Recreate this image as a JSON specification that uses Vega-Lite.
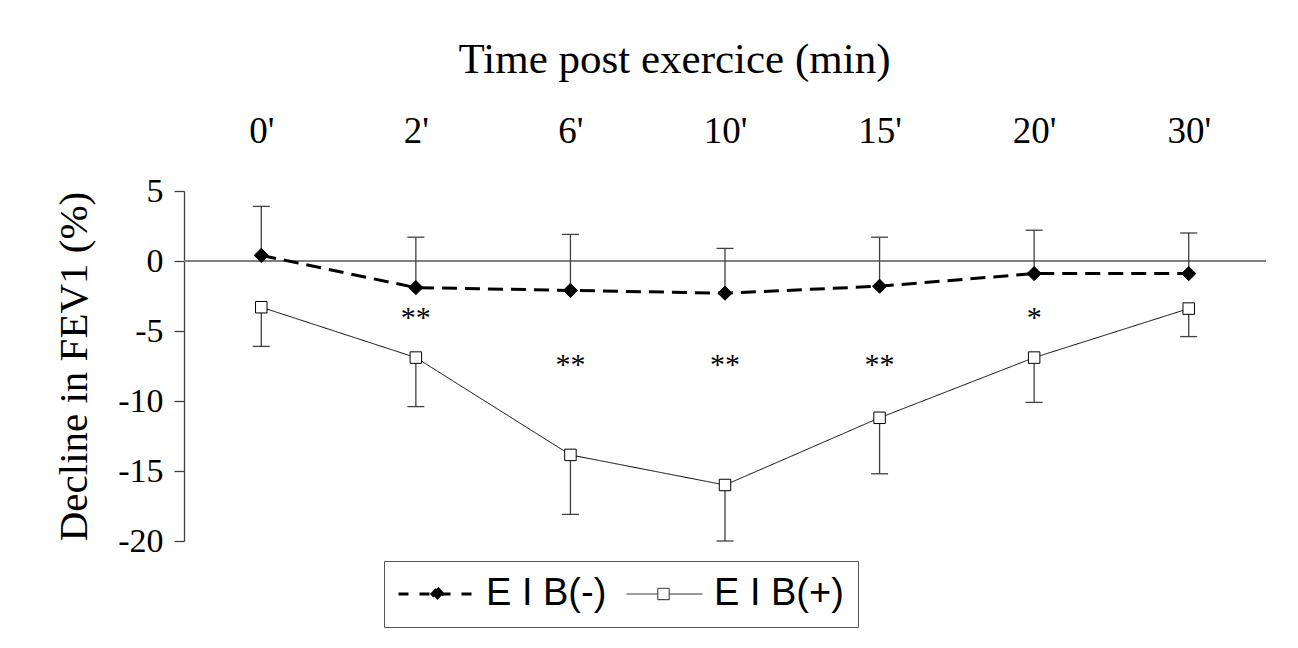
{
  "$schema": "https://vega.github.io/schema/vega-lite/v6.json",
  "width": 1082,
  "height": 350,
  "autosize": {"type": "none"},
  "padding": {"left": 184, "top": 191, "right": 32, "bottom": 107},
  "background": "white",
  "config": {
    "view": {"stroke": null},
    "font": "Liberation Serif",
    "axisX": {
      "domain": false,
      "ticks": false,
      "grid": false,
      "labelFont": "Liberation Serif",
      "labelFontSize": 37,
      "labelColor": "black",
      "labelPadding": 49,
      "labelBaseline": "alphabetic",
      "labelAngle": 0,
      "titleFont": "Liberation Serif",
      "titleFontSize": 43,
      "titleFontWeight": "normal",
      "titleColor": "black",
      "titleX": 490,
      "titleY": -119,
      "titleBaseline": "alphabetic",
      "titleAlign": "center"
    },
    "axisY": {
      "grid": false,
      "domain": true,
      "domainColor": "#404040",
      "domainWidth": 1.3,
      "ticks": true,
      "tickSize": 10,
      "tickColor": "#404040",
      "tickWidth": 1.3,
      "labelFont": "Liberation Serif",
      "labelFontSize": 34,
      "labelColor": "black",
      "labelPadding": 11,
      "titleFont": "Liberation Serif",
      "titleFontSize": 41,
      "titleFontWeight": "normal",
      "titleColor": "black",
      "titlePadding": 22
    }
  },
  "datasets": {
    "fev": [
      {"time": "0'", "series": "EIB(-)", "value": 0.4, "bar": 3.9},
      {"time": "2'", "series": "EIB(-)", "value": -1.9, "bar": 1.7},
      {"time": "6'", "series": "EIB(-)", "value": -2.1, "bar": 1.9},
      {"time": "10'", "series": "EIB(-)", "value": -2.3, "bar": 0.9},
      {"time": "15'", "series": "EIB(-)", "value": -1.8, "bar": 1.7},
      {"time": "20'", "series": "EIB(-)", "value": -0.9, "bar": 2.2},
      {"time": "30'", "series": "EIB(-)", "value": -0.9, "bar": 2.0},
      {"time": "0'", "series": "EIB(+)", "value": -3.3, "bar": -6.1},
      {"time": "2'", "series": "EIB(+)", "value": -6.9, "bar": -10.4},
      {"time": "6'", "series": "EIB(+)", "value": -13.85, "bar": -18.1},
      {"time": "10'", "series": "EIB(+)", "value": -16.0, "bar": -20.0},
      {"time": "15'", "series": "EIB(+)", "value": -11.2, "bar": -15.2},
      {"time": "20'", "series": "EIB(+)", "value": -6.9, "bar": -10.1},
      {"time": "30'", "series": "EIB(+)", "value": -3.4, "bar": -5.4}
    ],
    "stars": [
      {"time": "2'", "y": -3.7, "label": "**"},
      {"time": "6'", "y": -7.1, "label": "**"},
      {"time": "10'", "y": -7.1, "label": "**"},
      {"time": "15'", "y": -7.1, "label": "**"},
      {"time": "20'", "y": -3.7, "label": "*"}
    ]
  },
  "data": {"name": "fev"},
  "layer": [
    {
      "mark": {"type": "rule", "color": "#808080", "strokeWidth": 1.5},
      "encoding": {
        "y": {"datum": 0, "type": "quantitative", "scale": {"domain": [-20, 5], "nice": false, "zero": false}, "title": "Decline in FEV1 (%)", "axis": {"values": [-20, -15, -10, -5, 0, 5], "labelExpr": "'' + datum.value"}}
      }
    },
    {
      "mark": {"type": "rule", "color": "#404040", "strokeWidth": 1.3},
      "encoding": {
        "x": {"field": "time", "type": "ordinal", "sort": ["0'", "2'", "6'", "10'", "15'", "20'", "30'"], "scale": {"type": "point", "padding": 0.5}, "title": "Time post exercice (min)", "axis": {"orient": "top"}},
        "y": {"field": "value", "type": "quantitative", "scale": {"domain": [-20, 5], "nice": false, "zero": false}, "title": "Decline in FEV1 (%)", "axis": {"values": [-20, -15, -10, -5, 0, 5], "labelExpr": "'' + datum.value"}},
        "y2": {"field": "bar"}
      }
    },
    {
      "mark": {"type": "tick", "orient": "horizontal", "color": "#404040", "size": 17, "thickness": 1.3, "opacity": 1},
      "encoding": {
        "x": {"field": "time", "type": "ordinal", "sort": ["0'", "2'", "6'", "10'", "15'", "20'", "30'"], "scale": {"type": "point", "padding": 0.5}, "title": "Time post exercice (min)", "axis": {"orient": "top"}},
        "y": {"field": "bar", "type": "quantitative", "scale": {"domain": [-20, 5], "nice": false, "zero": false}, "title": "Decline in FEV1 (%)", "axis": {"values": [-20, -15, -10, -5, 0, 5], "labelExpr": "'' + datum.value"}}
      }
    },
    {
      "mark": {"type": "line", "color": "black"},
      "encoding": {
        "x": {"field": "time", "type": "ordinal", "sort": ["0'", "2'", "6'", "10'", "15'", "20'", "30'"], "scale": {"type": "point", "padding": 0.5}, "title": "Time post exercice (min)", "axis": {"orient": "top"}},
        "y": {"field": "value", "type": "quantitative", "scale": {"domain": [-20, 5], "nice": false, "zero": false}, "title": "Decline in FEV1 (%)", "axis": {"values": [-20, -15, -10, -5, 0, 5], "labelExpr": "'' + datum.value"}},
        "detail": {"field": "series", "type": "nominal"},
        "strokeDash": {"condition": {"test": "datum.series === 'EIB(-)'", "value": [15, 8]}, "value": [1, 0]},
        "strokeWidth": {"condition": {"test": "datum.series === 'EIB(-)'", "value": 3}, "value": 1}
      }
    },
    {
      "mark": {"type": "point", "filled": true, "stroke": "black", "strokeWidth": 1, "opacity": 1},
      "encoding": {
        "x": {"field": "time", "type": "ordinal", "sort": ["0'", "2'", "6'", "10'", "15'", "20'", "30'"], "scale": {"type": "point", "padding": 0.5}, "title": "Time post exercice (min)", "axis": {"orient": "top"}},
        "y": {"field": "value", "type": "quantitative", "scale": {"domain": [-20, 5], "nice": false, "zero": false}, "title": "Decline in FEV1 (%)", "axis": {"values": [-20, -15, -10, -5, 0, 5], "labelExpr": "'' + datum.value"}},
        "shape": {"condition": {"test": "datum.series === 'EIB(-)'", "value": "diamond"}, "value": "square"},
        "fill": {"condition": {"test": "datum.series === 'EIB(-)'", "value": "black"}, "value": "white"},
        "size": {"condition": {"test": "datum.series === 'EIB(-)'", "value": 200}, "value": 132}
      }
    },
    {
      "mark": {"type": "point", "filled": false, "color": "black", "size": 0, "opacity": 1},
      "encoding": {
        "x": {"field": "time", "type": "ordinal", "sort": ["0'", "2'", "6'", "10'", "15'", "20'", "30'"], "scale": {"type": "point", "padding": 0.5}, "title": "Time post exercice (min)", "axis": {"orient": "top"}},
        "y": {"field": "value", "type": "quantitative", "scale": {"domain": [-20, 5], "nice": false, "zero": false}, "title": "Decline in FEV1 (%)", "axis": {"values": [-20, -15, -10, -5, 0, 5], "labelExpr": "'' + datum.value"}},
        "shape": {
          "field": "series",
          "type": "nominal",
          "scale": {"domain": ["EIB(-)", "EIB(+)"], "range": ["M-1.85,0L5.85,0M2.05,-0.6L2.6,0L2.05,0.6L1.5,0Z", "M-1.85,0L1.28,0M2.42,0L5.75,0M1.28,-0.57L2.42,-0.57L2.42,0.57L1.28,0.57Z"]},
          "legend": {
            "orient": "none",
            "legendX": 200,
            "legendY": 370,
            "direction": "horizontal",
            "title": null,
            "symbolSize": 400,
            "symbolOpacity": 1,
            "labelExpr": "datum.value === 'EIB(-)' ? 'E I B(-)' : 'E I B(+)'",
            "labelFont": "Liberation Sans",
            "labelFontSize": 38,
            "labelColor": "black",
            "labelOffset": 50,
            "labelLimit": 400,
            "columnPadding": 17,
            "padding": 14,
            "strokeColor": "#555555"
          }
        },
        "fill": {"field": "series", "type": "nominal", "scale": {"domain": ["EIB(-)", "EIB(+)"], "range": ["black", "white"]}, "legend": {"title": null}},
        "stroke": {"field": "series", "type": "nominal", "scale": {"domain": ["EIB(-)", "EIB(+)"], "range": ["black", "#222222"]}, "legend": {"title": null}},
        "strokeDash": {"field": "series", "type": "nominal", "scale": {"domain": ["EIB(-)", "EIB(+)"], "range": [[10, 11], [1, 0]]}, "legend": {"title": null}},
        "strokeWidth": {"field": "series", "type": "ordinal", "scale": {"domain": ["EIB(-)", "EIB(+)"], "range": [3, 1]}, "legend": {"title": null}}
      }
    },
    {
      "data": {"name": "stars"},
      "mark": {"type": "text", "font": "Liberation Serif", "fontSize": 30, "color": "black", "baseline": "middle", "dy": 5},
      "encoding": {
        "x": {"field": "time", "type": "ordinal", "sort": ["0'", "2'", "6'", "10'", "15'", "20'", "30'"], "scale": {"type": "point", "padding": 0.5}, "title": "Time post exercice (min)", "axis": {"orient": "top"}},
        "y": {"field": "y", "type": "quantitative", "scale": {"domain": [-20, 5], "nice": false, "zero": false}, "title": "Decline in FEV1 (%)", "axis": {"values": [-20, -15, -10, -5, 0, 5], "labelExpr": "'' + datum.value"}},
        "text": {"field": "label"}
      }
    }
  ]
}
